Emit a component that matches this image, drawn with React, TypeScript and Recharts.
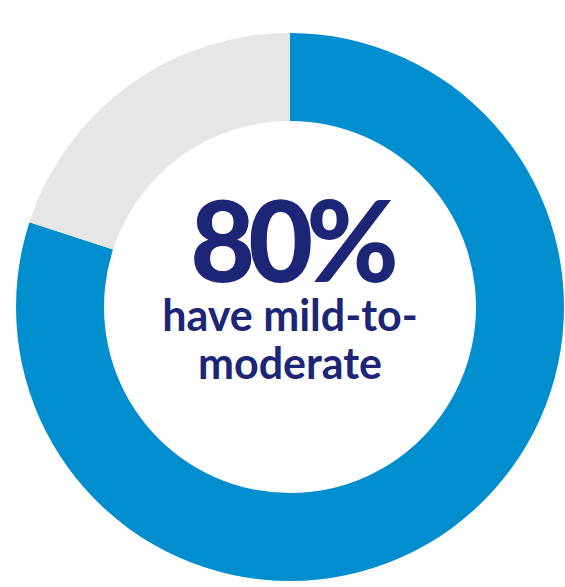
import React from 'react';
import { PieChart, Pie, Cell, Label } from 'recharts';

const categories = ['Mild-to-moderate', 'Other'];
const shares = [80, 20];
const COLORS = ['#008ECE', '#E6E6E6'];
const headline = '80%';
const captionLines = ['have mild-to-', 'moderate'];

const data = categories.map((name, i) => ({ name, value: shares[i] }));

const NAVY = '#1C2576';

// Center text block
const CenterLabel = (props: { viewBox?: { cx: number; cy: number } }) => {
  const { cx = 290, cy = 307 } = props.viewBox || {};
  return (
    <g>
      <text
        x={cx + 1}
        y={cy - 25}
        textAnchor="middle"
        fill={NAVY}
        style={{ fontFamily: 'Lato', fontWeight: 900, fontSize: 112, letterSpacing: -7 }}
      >
        {headline}
      </text>
      {captionLines.map((line, i) => (
        <text
          key={line}
          x={cx}
          y={cy + 24 + i * 48}
          textAnchor="middle"
          fill={NAVY}
          style={{ fontFamily: 'Lato', fontWeight: 700, fontSize: 43 }}
        >
          {line}
        </text>
      ))}
    </g>
  );
};

export default function App() {
  return (
    <div style={{ position: 'absolute', left: 0, top: 0, background: '#fff' }}>
      <PieChart width={565} height={587} margin={{ top: 0, right: 0, bottom: 0, left: 0 }}>
        <Pie
          data={data}
          dataKey="value"
          nameKey="name"
          cx={290}
          cy={307}
          outerRadius={274}
          innerRadius={186}
          startAngle={90}
          endAngle={-270}
          stroke="none"
          isAnimationActive={false}
        >
          {data.map((_, index) => (
            <Cell key={`cell-${index}`} fill={COLORS[index % COLORS.length]} />
          ))}
          <Label position="center" content={<CenterLabel />} />
        </Pie>
      </PieChart>
    </div>
  );
}
